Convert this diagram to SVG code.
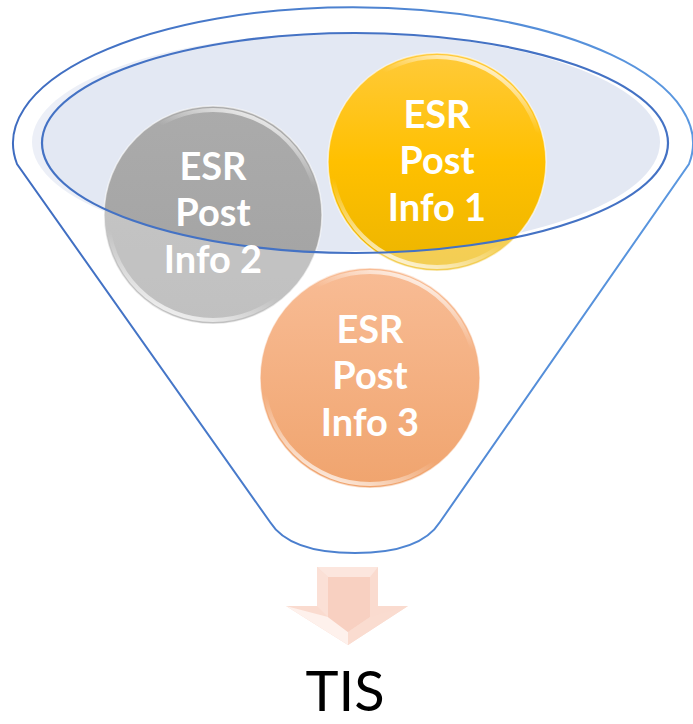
<svg xmlns="http://www.w3.org/2000/svg" width="693" height="724" viewBox="0 0 693 724">
  <defs>
    <linearGradient id="gGray" x1="0" y1="0" x2="0" y2="1">
      <stop offset="0" stop-color="#ababab"/>
      <stop offset="1" stop-color="#a2a2a2"/>
    </linearGradient>
    <linearGradient id="gYellow" x1="0" y1="0" x2="0" y2="1">
      <stop offset="0" stop-color="#ffca3a"/>
      <stop offset="0.5" stop-color="#ffc000"/>
      <stop offset="1" stop-color="#ecb500"/>
    </linearGradient>
    <linearGradient id="gOrange" x1="0" y1="0" x2="0" y2="1">
      <stop offset="0" stop-color="#f8bc95"/>
      <stop offset="1" stop-color="#f0a46e"/>
    </linearGradient>
    <linearGradient id="gRim" x1="0.65" y1="0" x2="0.25" y2="1">
      <stop offset="0" stop-color="#ffffff" stop-opacity="0.75"/>
      <stop offset="0.2" stop-color="#ffffff" stop-opacity="0"/>
      <stop offset="0.72" stop-color="#ffffff" stop-opacity="0"/>
      <stop offset="1" stop-color="#ffffff" stop-opacity="0.85"/>
    </linearGradient>
    <linearGradient id="gLine" x1="0" y1="0" x2="1" y2="0">
      <stop offset="0" stop-color="#3f6cc0"/>
      <stop offset="1" stop-color="#5b98e0"/>
    </linearGradient>
  </defs>
  <style>
    .lbl { font-family: Lato, "Open Sans", "Liberation Sans", sans-serif; font-weight: 700; font-size: 38px; fill: #ffffff; text-anchor: middle; }
    .rim { fill: none; stroke: url(#gRim); stroke-width: 4; }
    .edge { fill: none; stroke: #ffffff; stroke-opacity: 0.6; stroke-width: 1.5; }
    .tis { font-family: Lato, "Open Sans", "Liberation Sans", sans-serif; font-size: 56px; fill: #000000; text-anchor: middle; }
  </style>

  <g id="funnel-opening">
    <ellipse cx="346" cy="142" rx="314" ry="109" fill="#e3e8f3"/>
  </g>

  <g id="node-info2">
    <circle cx="213" cy="215" r="109" fill="url(#gGray)"/>
    <circle cx="213" cy="215" r="105" class="rim"/>
    <circle cx="213" cy="215" r="109" class="edge"/>
  </g>

  <g id="node-info1">
    <circle cx="437" cy="162" r="109" fill="url(#gYellow)"/>
    <circle cx="437" cy="162" r="105" class="rim"/>
    <circle cx="437" cy="162" r="109" class="edge"/>
  </g>

  <g id="funnel-body">
    <path d="M0 0 H693 V560 H0 Z M42 143 A313 110 0 1 0 668 143 A313 110 0 1 0 42 143 Z" fill="#ffffff" fill-opacity="0.33" fill-rule="evenodd"/>
    <ellipse cx="355" cy="143" rx="313" ry="110" fill="none" stroke="#4472c4" stroke-width="2.2"/>
    <path d="M17 164 A340 136 0 1 1 689 164 L440 522 C425 546 390 553 355 553 C320 553 285 546 270 522 Z" fill="none" stroke="url(#gLine)" stroke-width="2"/>
  </g>

  <g id="node-info3">
    <circle cx="370" cy="378" r="110" fill="url(#gOrange)"/>
    <circle cx="370" cy="378" r="106" class="rim"/>
    <circle cx="370" cy="378" r="110" class="edge"/>
  </g>

  <g id="labels">
    <text class="lbl" x="213" y="180">ESR</text>
    <text class="lbl" x="213" y="226">Post</text>
    <text class="lbl" x="213" y="273">Info 2</text>
    <text class="lbl" x="437" y="128">ESR</text>
    <text class="lbl" x="437" y="174">Post</text>
    <text class="lbl" x="437" y="221">Info 1</text>
    <text class="lbl" x="370" y="343">ESR</text>
    <text class="lbl" x="370" y="389">Post</text>
    <text class="lbl" x="370" y="436">Info 3</text>
  </g>

  <g id="connectors">
    <polygon points="317,567 378,567 378,606 408,606 348,645 286,606 317,606" fill="#fadbcf"/>
    <polygon points="317,567 378,567 370,577 328,577" fill="#fce6de"/>
    <polygon points="317,567 328,577 328,617 317,606" fill="#fbe0d6"/>
    <polygon points="286,606 328,617 348,632 348,645" fill="#fef1ec"/>
    <polygon points="328,577 370,577 370,617 348,632 328,617" fill="#f8d0c1"/>
    <polygon points="370,617 408,606 348,645 348,632" fill="#fadcd0"/>
  </g>

  <g id="node-tis">
    <text class="tis" x="345" y="711">TIS</text>
  </g>
</svg>
